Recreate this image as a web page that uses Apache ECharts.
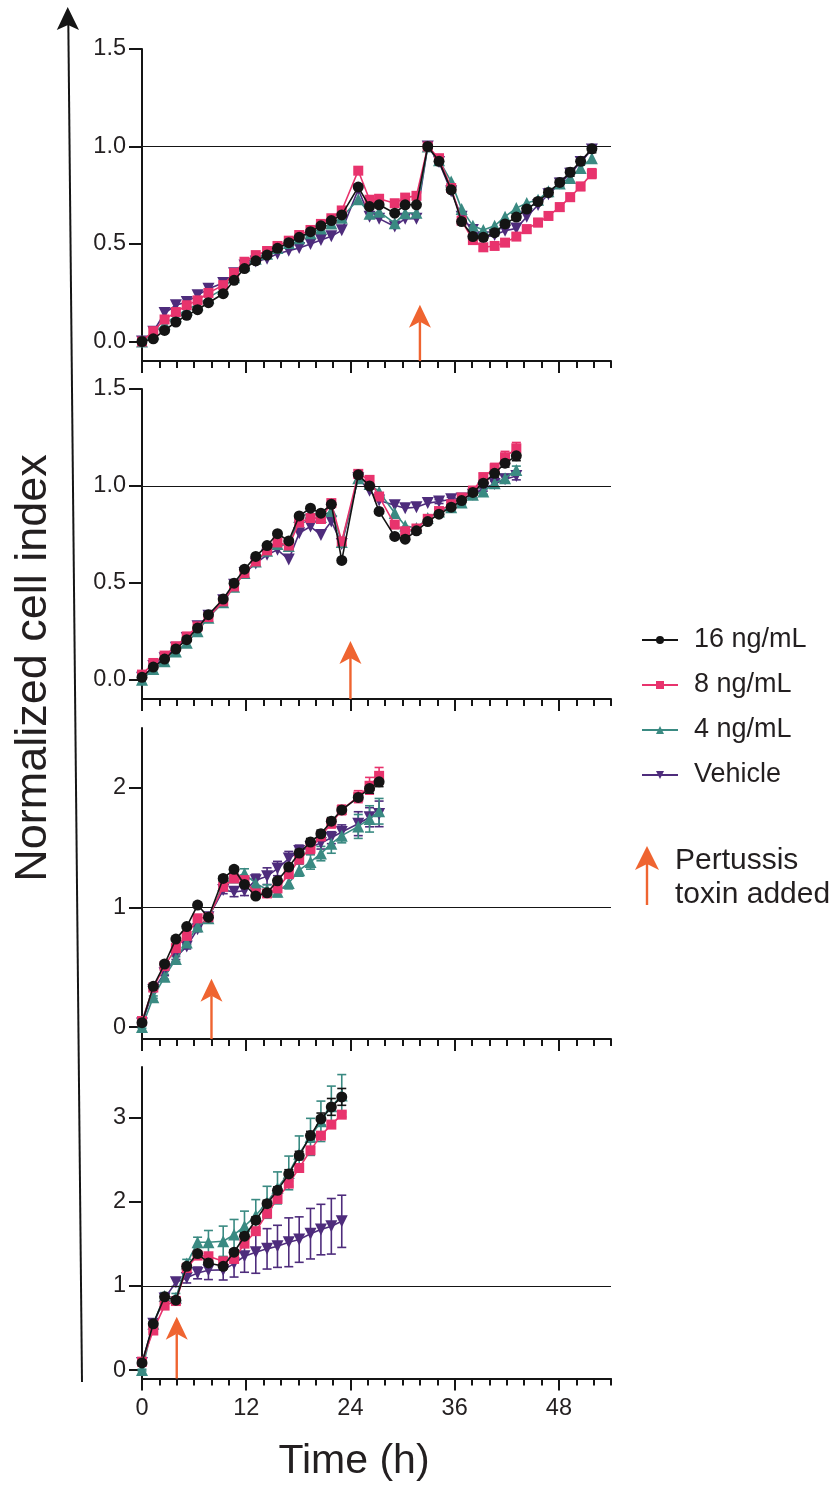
<!DOCTYPE html>
<html><head><meta charset="utf-8">
<script src="https://cdn.jsdelivr.net/npm/echarts@6/dist/echarts.min.js"></script>
<style>html,body{margin:0;padding:0;background:#fff}#c{width:835px;height:1489px}</style>
</head><body><div id="c"></div>
<script>
// ---------------- DATA ----------------
const TIME = [0, 1.3, 2.6, 3.9, 5.15, 6.4, 7.65, 9.35, 10.6, 11.8, 13.1, 14.4, 15.6, 16.9, 18.1, 19.4, 20.6, 21.8, 23.0, 24.9, 26.2, 27.3, 29.1, 30.3, 31.6, 32.9, 34.2, 35.6, 36.8, 38.1, 39.3, 40.6, 41.8, 43.1, 44.3, 45.6, 46.8, 48.1, 49.3, 50.5, 51.8];
const X_LABELS = [0, 12, 24, 36, 48];
const SERIES_NAMES = ['16 ng/mL', '8 ng/mL', '4 ng/mL', 'Vehicle'];
const ARROW_TIMES = [32, 24, 8, 4];
const ARROW_TIPS = [0.188, 0.2, 0.404, 0.633];

// Panel 1
const p1_16 = [0, 0.014, 0.057, 0.10, 0.134, 0.163, 0.199, 0.245, 0.314, 0.374, 0.414, 0.443, 0.478, 0.507, 0.534, 0.563, 0.593, 0.620, 0.649, 0.792, 0.692, 0.701, 0.658, 0.701, 0.701, 1.0, 0.924, 0.778, 0.615, 0.538, 0.534, 0.558, 0.603, 0.638, 0.679, 0.718, 0.764, 0.816, 0.868, 0.924, 0.988];
const p1_8 = [0, 0.053, 0.113, 0.151, 0.186, 0.211, 0.249, 0.289, 0.352, 0.409, 0.443, 0.464, 0.490, 0.517, 0.546, 0.572, 0.603, 0.632, 0.672, 0.876, 0.727, 0.732, 0.709, 0.738, 0.747, 1.0, 0.94, 0.787, 0.62, 0.52, 0.483, 0.49, 0.507, 0.538, 0.576, 0.61, 0.644, 0.689, 0.74, 0.795, 0.861];
const p1_4 = [0, 0.04, 0.09, 0.13, 0.165, 0.19, 0.225, 0.27, 0.33, 0.39, 0.425, 0.45, 0.48, 0.505, 0.53, 0.555, 0.58, 0.605, 0.635, 0.73, 0.655, 0.665, 0.607, 0.658, 0.66, 1.0, 0.93, 0.82, 0.679, 0.593, 0.572, 0.593, 0.64, 0.684, 0.71, 0.727, 0.77, 0.81, 0.838, 0.89, 0.94];
const p1_veh = [0, 0.05, 0.146, 0.186, 0.203, 0.237, 0.271, 0.30, 0.35, 0.39, 0.41, 0.425, 0.45, 0.465, 0.48, 0.50, 0.52, 0.54, 0.57, 0.78, 0.64, 0.63, 0.59, 0.63, 0.63, 1.0, 0.92, 0.77, 0.64, 0.572, 0.534, 0.546, 0.568, 0.58, 0.64, 0.70, 0.755, 0.81, 0.86, 0.92, 0.985];
const p1_16_err = [0,0,0,0,0,0,0,0,0,0,0,0,0,0,0,0,0,0,0,0,0,0,0,0,0,0,0,0, 0.01,0.015,0.015,0.015,0.015,0.015,0.015,0.015,0.02,0.02,0.02,0.02,0.02];
const p1_8_err = [0,0,0,0,0,0,0,0,0,0,0,0,0,0,0,0,0,0,0,0,0,0,0,0,0,0,0,0, 0.01,0.015,0.015,0.015,0.015,0.015,0.02,0.02,0.02,0.02,0.02,0.02,0.025];

// Panel 2
const p2_16 = [0.012, 0.065, 0.106, 0.158, 0.206, 0.266, 0.335, 0.416, 0.498, 0.570, 0.636, 0.692, 0.753, 0.716, 0.845, 0.885, 0.859, 0.905, 0.615, 1.057, 1.0, 0.868, 0.739, 0.725, 0.768, 0.816, 0.854, 0.89, 0.924, 0.966, 1.014, 1.065, 1.117, 1.155];
const p2_8 = [0.026, 0.086, 0.124, 0.172, 0.223, 0.275, 0.323, 0.404, 0.481, 0.55, 0.61, 0.667, 0.708, 0.692, 0.811, 0.834, 0.829, 0.911, 0.713, 1.062, 1.031, 0.945, 0.80, 0.766, 0.78, 0.83, 0.87, 0.905, 0.94, 0.976, 1.045, 1.091, 1.148, 1.194];
const p2_4 = [0.0, 0.055, 0.095, 0.145, 0.19, 0.25, 0.32, 0.40, 0.48, 0.55, 0.61, 0.665, 0.70, 0.69, 0.84, 0.86, 0.84, 0.87, 0.71, 1.04, 1.01, 0.97, 0.86, 0.794, 0.782, 0.834, 0.868, 0.89, 0.914, 0.954, 0.971, 1.014, 1.04, 1.082];
const p2_veh = [0.01, 0.07, 0.11, 0.165, 0.215, 0.275, 0.33, 0.41, 0.49, 0.55, 0.60, 0.644, 0.67, 0.62, 0.756, 0.79, 0.747, 0.816, 0.70, 1.04, 0.975, 0.925, 0.90, 0.885, 0.89, 0.911, 0.919, 0.931, 0.935, 0.954, 0.988, 1.01, 1.034, 1.051];
const p2_16_err = [0,0,0,0,0,0,0,0,0,0,0,0,0,0,0,0,0,0,0,0,0,0,0,0,0,0, 0.01,0.01,0.01,0.015,0.015,0.02,0.02,0.025];
const p2_8_err = [0,0,0,0,0,0,0,0,0,0,0,0,0,0,0,0,0,0,0,0,0,0,0,0,0,0, 0.01,0.01,0.015,0.015,0.02,0.025,0.03,0.03];
const p2_4_err = [0,0,0,0,0,0,0,0,0,0,0,0,0,0,0,0,0,0,0,0,0,0,0,0,0,0, 0.01,0.01,0.01,0.015,0.015,0.02,0.02,0.02];
const p2_veh_err = [0,0,0,0,0,0,0,0,0,0,0,0,0,0,0,0,0,0,0,0,0,0,0,0,0,0, 0.01,0.01,0.01,0.015,0.015,0.015,0.02,0.02];

// Panel 3
const p3_16 = [0.036, 0.34, 0.527, 0.735, 0.84, 1.02, 0.918, 1.242, 1.319, 1.192, 1.095, 1.122, 1.222, 1.338, 1.455, 1.546, 1.616, 1.721, 1.815, 1.92, 1.995, 2.05];
const p3_8 = [0.05, 0.33, 0.51, 0.66, 0.762, 0.909, 0.918, 1.172, 1.242, 1.228, 1.117, 1.117, 1.159, 1.278, 1.40, 1.491, 1.594, 1.704, 1.815, 1.926, 2.017, 2.10];
const p3_4 = [0.0, 0.25, 0.42, 0.568, 0.707, 0.84, 0.909, 1.186, 1.25, 1.283, 1.20, 1.15, 1.13, 1.205, 1.311, 1.38, 1.45, 1.533, 1.60, 1.677, 1.74, 1.804];
const p3_veh = [0.03, 0.31, 0.45, 0.585, 0.673, 0.818, 0.918, 1.145, 1.13, 1.139, 1.228, 1.261, 1.325, 1.408, 1.471, 1.505, 1.538, 1.583, 1.63, 1.70, 1.754, 1.782];
const p3_16_err = [0.01,0.01,0.01,0.01,0.01,0.01,0.01,0.02,0.02,0.02,0.02,0.02,0.02,0.02,0.03,0.03,0.03,0.03,0.03,0.03,0.04,0.04];
const p3_8_err = [0.01,0.01,0.01,0.01,0.01,0.01,0.02,0.02,0.02,0.02,0.02,0.03,0.03,0.03,0.03,0.04,0.04,0.04,0.04,0.05,0.07,0.07];
const p3_4_err = [0.01,0.01,0.02,0.02,0.02,0.02,0.02,0.03,0.03,0.04,0.04,0.04,0.04,0.05,0.05,0.06,0.06,0.08,0.06,0.10,0.11,0.107];
const p3_veh_err = [0.01,0.01,0.02,0.02,0.02,0.02,0.02,0.03,0.04,0.04,0.05,0.07,0.06,0.06,0.05,0.05,0.05,0.05,0.06,0.10,0.08,0.107];

// Panel 4
const p4_16 = [0.085, 0.55, 0.87, 0.83, 1.233, 1.384, 1.273, 1.233, 1.40, 1.59, 1.78, 1.977, 2.135, 2.33, 2.548, 2.785, 2.983, 3.126, 3.245];
const p4_8 = [0.10, 0.47, 0.766, 0.82, 1.213, 1.36, 1.352, 1.292, 1.32, 1.502, 1.65, 1.859, 2.033, 2.215, 2.40, 2.61, 2.785, 2.916, 3.034];
const p4_4 = [0.0, 0.55, 0.88, 0.86, 1.265, 1.518, 1.518, 1.53, 1.609, 1.708, 1.835, 1.993, 2.164, 2.342, 2.571, 2.77, 2.955, 3.133, 3.26];
const p4_veh = [0.085, 0.55, 0.85, 1.043, 1.095, 1.154, 1.185, 1.19, 1.265, 1.352, 1.40, 1.44, 1.47, 1.518, 1.55, 1.62, 1.669, 1.708, 1.767];
const p4_16_err = [0.02,0.02,0.03,0.03,0.03,0.03,0.03,0.03,0.03,0.04,0.04,0.04,0.04,0.05,0.05,0.05,0.07,0.1,0.1];
const p4_8_err = [0.02,0.02,0.02,0.02,0.02,0.02,0.02,0.02,0.02,0.03,0.03,0.03,0.03,0.03,0.03,0.03,0.03,0.03,0.03];
const p4_4_err = [0.01,0.02,0.04,0.05,0.05,0.06,0.14,0.18,0.18,0.18,0.19,0.19,0.19,0.2,0.21,0.22,0.24,0.24,0.25];
const p4_veh_err = [0.02,0.02,0.03,0.05,0.06,0.07,0.11,0.12,0.16,0.19,0.25,0.24,0.25,0.29,0.27,0.3,0.3,0.33,0.31];

// ---------------- STYLE / LAYOUT ----------------
const FONT = '"Liberation Sans", Arial, Helvetica, sans-serif';
const AXIS = '#151515';
const TEXT = '#231f20';
const ARROW = '#ef6430';
const STYLE = {
  '16 ng/mL': {color: '#141414', symbol: 'circle', size: 11, rotate: 0},
  '8 ng/mL': {color: '#e8336d', symbol: 'rect', size: 10, rotate: 0},
  '4 ng/mL': {color: '#3a8a82', symbol: 'triangle', size: 12, rotate: 0},
  'Vehicle': {color: '#4e2c7c', symbol: 'triangle', size: 12, rotate: 180}
};
const DRAW_ORDER = ['Vehicle', '4 ng/mL', '8 ng/mL', '16 ng/mL'];

const PANELS = [
  {top: 49, height: 312, ymin: -0.1, ymax: 1.5, ticks: [0, 0.5, 1, 1.5], dec: 1, n: 41,
   vals: {'16 ng/mL': p1_16, '8 ng/mL': p1_8, '4 ng/mL': p1_4, 'Vehicle': p1_veh},
   errs: {'16 ng/mL': p1_16_err, '8 ng/mL': p1_8_err}},
  {top: 389, height: 310, ymin: -0.1, ymax: 1.5, ticks: [0, 0.5, 1, 1.5], dec: 1, n: 34,
   vals: {'16 ng/mL': p2_16, '8 ng/mL': p2_8, '4 ng/mL': p2_4, 'Vehicle': p2_veh},
   errs: {'16 ng/mL': p2_16_err, '8 ng/mL': p2_8_err, '4 ng/mL': p2_4_err, 'Vehicle': p2_veh_err}},
  {top: 728, height: 311, ymin: -0.1, ymax: 2.5, ticks: [0, 1, 2], dec: 0, n: 22,
   vals: {'16 ng/mL': p3_16, '8 ng/mL': p3_8, '4 ng/mL': p3_4, 'Vehicle': p3_veh},
   errs: {'16 ng/mL': p3_16_err, '8 ng/mL': p3_8_err, '4 ng/mL': p3_4_err, 'Vehicle': p3_veh_err}},
  {top: 1067, height: 311.5, ymin: -0.1, ymax: 3.6, ticks: [0, 1, 2, 3], dec: 0, n: 19,
   vals: {'16 ng/mL': p4_16, '8 ng/mL': p4_8, '4 ng/mL': p4_4, 'Vehicle': p4_veh},
   errs: {'16 ng/mL': p4_16_err, '8 ng/mL': p4_8_err, '4 ng/mL': p4_4_err, 'Vehicle': p4_veh_err}}
];

const grid = [], xAxis = [], yAxis = [], series = [];

function errRenderer(color) {
  return function (params, api) {
    const x = api.value(0), lo = api.value(1), hi = api.value(2);
    const a = api.coord([x, lo]), b = api.coord([x, hi]);
    const w = 4.5;
    const st = {stroke: color, lineWidth: 1.6};
    return {type: 'group', children: [
      {type: 'line', shape: {x1: a[0], y1: a[1], x2: b[0], y2: b[1]}, style: st},
      {type: 'line', shape: {x1: a[0] - w, y1: a[1], x2: a[0] + w, y2: a[1]}, style: st},
      {type: 'line', shape: {x1: b[0] - w, y1: b[1], x2: b[0] + w, y2: b[1]}, style: st}
    ]};
  };
}

function arrowRenderer(params, api) {
  const t = api.value(0), tip = api.value(1), base = api.value(2);
  const p0 = api.coord([t, base]), p1 = api.coord([t, tip]);
  const hw = 11, hl = 23, notch = 6;
  return {type: 'group', children: [
    {type: 'line', shape: {x1: p0[0], y1: p0[1], x2: p1[0], y2: p1[1] + hl - notch}, style: {stroke: ARROW, lineWidth: 2.4}},
    {type: 'polygon', shape: {points: [[p1[0], p1[1]], [p1[0] + hw, p1[1] + hl], [p1[0], p1[1] + hl - notch], [p1[0] - hw, p1[1] + hl]]}, style: {fill: ARROW}}
  ]};
}

PANELS.forEach((P, i) => {
  const last = i === PANELS.length - 1;
  grid.push({left: 142, width: 469, top: P.top, height: P.height, containLabel: false});
  xAxis.push({
    type: 'value', gridIndex: i, min: 0, max: 54, interval: 2, position: 'bottom',
    axisLine: {show: true, onZero: false, lineStyle: {color: AXIS, width: 2}},
    axisTick: {show: true, length: 7, lineStyle: {color: AXIS, width: 2}},
    axisLabel: last ? {show: true, customValues: X_LABELS, fontSize: 23.5, fontFamily: FONT, color: TEXT, margin: 18} : {show: false},
    splitLine: {show: false}
  });
  xAxis.push({
    type: 'value', gridIndex: i, min: 0, max: 54, position: 'bottom', offset: 0,
    axisLine: {show: false, onZero: false},
    axisTick: {show: true, length: 12, customValues: X_LABELS, lineStyle: {color: AXIS, width: 2}},
    axisLabel: {show: false}, splitLine: {show: false}
  });
  yAxis.push({
    type: 'value', gridIndex: i, min: P.ymin, max: P.ymax,
    axisLine: {show: true, onZero: false, lineStyle: {color: AXIS, width: 2}},
    axisTick: {show: true, length: 13, customValues: P.ticks, lineStyle: {color: AXIS, width: 2}},
    axisLabel: {show: true, customValues: P.ticks, fontSize: 23.5, fontFamily: FONT, color: TEXT, margin: 16,
      formatter: v => P.dec ? Number(v).toFixed(P.dec) : String(Math.round(v))},
    splitLine: {show: false}
  });
  const xi = i * 2;
  const times = TIME.slice(0, P.n);
  DRAW_ORDER.forEach(name => {
    const e = P.errs[name];
    if (!e) return;
    const v = P.vals[name];
    const data = [];
    times.forEach((t, k) => { if (e[k] > 0) data.push([t, v[k] - e[k], v[k] + e[k]]); });
    series.push({
      type: 'custom', name: name + ' SEM', xAxisIndex: xi, yAxisIndex: i, z: 2,
      renderItem: errRenderer(STYLE[name].color), data: data, encode: {x: 0, y: [1, 2]}, silent: true
    });
  });
  DRAW_ORDER.forEach((name, k) => {
    const s = STYLE[name];
    const ser = {
      type: 'line', name: name, xAxisIndex: xi, yAxisIndex: i, z: 3 + k,
      data: times.map((t, j) => [t, P.vals[name][j]]),
      symbol: s.symbol, symbolSize: s.size, symbolRotate: s.rotate, showSymbol: true,
      lineStyle: {color: s.color, width: 1.6}, itemStyle: {color: s.color},
      emphasis: {disabled: true}, silent: true
    };
    if (name === 'Vehicle') {
      ser.markLine = {silent: true, symbol: 'none', label: {show: false},
        lineStyle: {color: AXIS, width: 1.2, type: 'solid'}, data: [{yAxis: 1}]};
    }
    series.push(ser);
  });
  series.push({
    type: 'custom', name: 'toxin', xAxisIndex: xi, yAxisIndex: i, z: 10, silent: true,
    renderItem: arrowRenderer, data: [[ARROW_TIMES[i], ARROW_TIPS[i], P.ymin]], encode: {x: 0, y: 1}
  });
});

const chart = echarts.init(document.getElementById('c'), null, {renderer: 'canvas'});
chart.setOption({
  animation: false,
  backgroundColor: '#ffffff',
  grid, xAxis, yAxis, series,
  legend: {
    data: SERIES_NAMES, orient: 'vertical', left: 636, top: 620,
    itemWidth: 36, itemHeight: 10, itemGap: 15, selectedMode: false,
    textStyle: {fontSize: 27, fontFamily: FONT, color: TEXT, lineHeight: 30, padding: [0, 0, 0, 11]}
  },
  graphic: [
    {type: 'line', shape: {x1: 82, y1: 1382, x2: 68.3, y2: 22}, style: {stroke: AXIS, lineWidth: 2}},
    {type: 'polygon', shape: {points: [[67.7, 7], [79, 30], [68, 25], [56.8, 30]]}, style: {fill: AXIS}},
    {type: 'text', x: 34, y: 668, rotation: Math.PI / 2,
      style: {text: 'Normalized cell index', font: '45px ' + FONT, fill: TEXT, textAlign: 'center', textVerticalAlign: 'middle'}},
    {type: 'text', x: 354, y: 1462,
      style: {text: 'Time (h)', font: '41px ' + FONT, fill: TEXT, textAlign: 'center', textVerticalAlign: 'middle'}},
    {type: 'line', shape: {x1: 647, y1: 905, x2: 647, y2: 862}, style: {stroke: ARROW, lineWidth: 2.4}},
    {type: 'polygon', shape: {points: [[647, 846], [659, 870], [647, 864], [635, 870]]}, style: {fill: ARROW}},
    {type: 'text', x: 675, y: 861,
      style: {text: 'Pertussis', font: '30px ' + FONT, fill: TEXT, textAlign: 'left', textVerticalAlign: 'middle'}},
    {type: 'text', x: 675, y: 895,
      style: {text: 'toxin added', font: '30px ' + FONT, fill: TEXT, textAlign: 'left', textVerticalAlign: 'middle'}}
  ]
});
</script>
</body></html>
